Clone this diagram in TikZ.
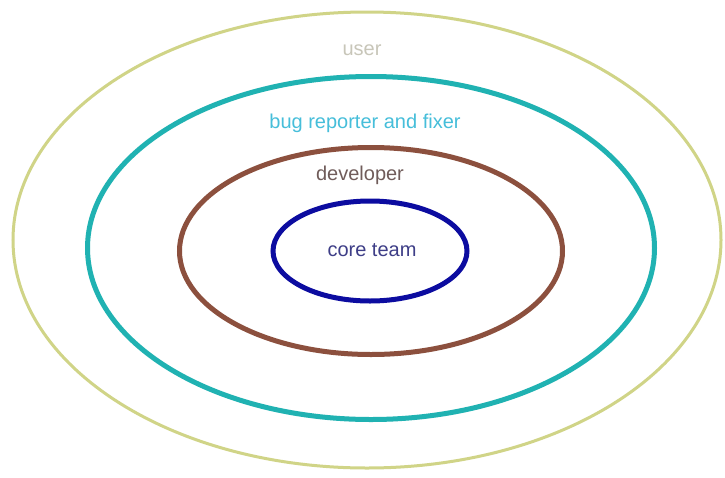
\documentclass[tikz,border=0pt]{standalone}
\usepackage{fontspec}
\setmainfont{Liberation Sans}
\usetikzlibrary{shapes.geometric}
\definecolor{usercol}{RGB}{208,212,135}
\definecolor{usertext}{RGB}{200,198,185}
\definecolor{bugcol}{RGB}{32,178,178}
\definecolor{bugtext}{RGB}{70,190,218}
\definecolor{devcol}{RGB}{140,80,62}
\definecolor{devtext}{RGB}{112,92,90}
\definecolor{corecol}{RGB}{12,12,160}
\definecolor{coretext}{RGB}{62,62,135}
\tikzset{
  ring/.style={ellipse, draw, inner sep=0pt},
  lbl/.style={inner sep=0pt, font=\fontsize{20}{24}\selectfont}
}
\begin{document}
\begin{tikzpicture}[x=1pt,y=-1pt]
\useasboundingbox (0,0) rectangle (725,477);
\fill[white] (0,0) rectangle (725,477);
\node[ring, draw=usercol, line width=3pt, minimum width=708pt, minimum height=456pt] (user) at (367,240) {};
\node[ring, draw=bugcol, line width=5pt, minimum width=567pt, minimum height=343pt] (bug) at (371,248) {};
\node[ring, draw=devcol, line width=5pt, minimum width=383pt, minimum height=207pt] (dev) at (371,251) {};
\node[ring, draw=corecol, line width=5pt, minimum width=194pt, minimum height=100pt] (core) at (370,251) {};
\node[lbl, text=usertext] (userlbl) at (362,50) {user};
\node[lbl, text=bugtext] (buglbl) at (365,123) {bug reporter and fixer};
\node[lbl, text=devtext] (devlbl) at (360,175) {developer};
\node[lbl, text=coretext] (corelbl) at (372,250) {core team};
\end{tikzpicture}
\end{document}
